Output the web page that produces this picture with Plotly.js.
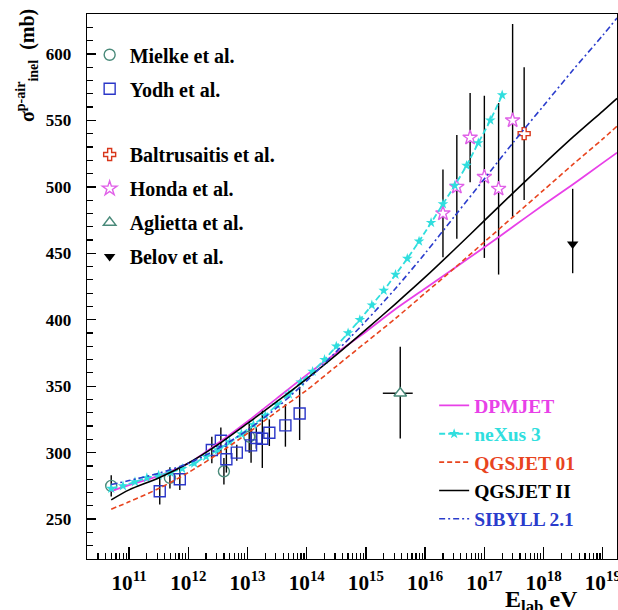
<!DOCTYPE html>
<html>
<head>
<meta charset="utf-8">
<script src="https://cdn.plot.ly/plotly-3.0.1.min.js"></script>
<style>html,body{margin:0;padding:0;background:#fff;}#chart{width:618px;height:610px;}</style>
</head>
<body>
<div id="chart"></div>
<script>
// ---------- data (energies in eV, cross sections in mb) ----------
const mielkeE   = [5.0e10, 4.9e11, 4.0e12, 1.07e13];
const mielkeS   = [275, 281, 286, 312];
const mielkeErr = [8, 8, 10, 12];

const yodhE   = [3.3e11, 7.2e11, 2.5e12, 3.55e12, 4.4e12, 6.6e12, 1.15e13, 1.41e13, 1.78e13, 2.34e13, 4.37e13, 7.6e13];
const yodhS   = [271, 280, 302, 309, 295, 300, 305.5, 311, 310.5, 315, 320.5, 329.5];
const yodhErr = [10, 8, 10, 10, 10, 6, 13, 8, 22, 10, 16, 20];

const baltE   = [4.7e17];
const baltS   = [540];
const baltErr = [50];

const hondaE   = [2.0e16, 3.43e16, 5.75e16, 1.0e17, 1.74e17, 3.0e17];
const hondaS   = [480, 500, 537, 507.5, 498.5, 550];
const hondaErr = [33, 39, 33.5, 61, 64.5, 72.5];

const agliettaE      = [3.8e15];
const agliettaS      = [344.7];
const agliettaErrUp  = [35];
const agliettaErrDn  = [34];
const agliettaEErrUp = [2.37e15];
const agliettaEErrDn = [1.87e15];

const belovE     = [3.1e18];
const belovS     = [457];
const belovErrUp = [41.5];
const belovErrDn = [22];

// model curves
const modelE = [5.0e10, 1e11, 3.16e11, 1e12, 3.16e12, 1e13, 3.16e13, 1e14, 3.16e14, 1e15,
                3.16e15, 1e16, 3.16e16, 1e17, 3.16e17, 1e18, 3.16e18, 1e19, 1.74e19];
const dpmjet   = [271, 275.5, 282.5, 292, 307, 323.5, 341, 358.5, 375, 391, 408, 423.5, 439, 454.5, 470.5, 486.5, 502, 518, 525.7];
const qgsjet01 = [257.5, 263, 273, 285, 299, 314.5, 331, 347, 365, 383, 401, 420, 439, 458.5, 478, 497.5, 517, 536, 545.6];
const qgsjet2  = [264.5, 272, 281, 292, 306, 322, 338.5, 355.5, 373.5, 392.5, 412, 432, 453, 474.5, 496, 517, 537.5, 557, 566.5];
const sibyll   = [276, 279, 284.5, 292, 303, 317, 334, 354, 376, 399, 423.5, 450, 478, 506, 534, 561, 588, 614, 627];

const nexusE = [5.0e10, 7.9e10, 1.26e11, 2.0e11, 3.16e11, 5.0e11, 7.9e11, 1.26e12, 2.0e12, 3.16e12,
                5.0e12, 7.9e12, 1.26e13, 2.0e13, 3.16e13, 5.0e13, 7.9e13, 1.26e14, 2.0e14, 3.16e14,
                5.0e14, 7.9e14, 1.26e15, 2.0e15, 3.16e15, 5.0e15, 7.9e15, 1.26e16, 2.0e16, 3.16e16,
                5.0e16, 7.9e16, 1.26e17, 2.0e17];
const nexus  = [273, 275, 278, 281, 283, 285, 288, 292, 297, 302,
                308, 314, 321, 328, 336, 344, 353, 361, 370, 380,
                390, 400, 411, 422, 434, 446, 459, 473, 487, 501,
                516, 533, 550, 569];

const yTickVals = [250, 300, 350, 400, 450, 500, 550, 600];

// ---------- styles ----------
const FONT = "Liberation Serif, Times New Roman, serif";
const C = {dpm:'#e840e8', nex:'#30dede', q01:'#e8441e', q2:'#000000', sib:'#2a3ccc',
           mielke:'#4a8a7a', yodh:'#2a36c8', balt:'#d8361a', honda:'#e060e8', agl:'#4a8a7a'};
function eb(arr, arrm){ return {type:'data', array:arr, arrayminus:arrm||arr, symmetric: !arrm,
                               color:'#000', thickness:1.4, width:0}; }

const traces = [
  // data
  {x:mielkeE, y:mielkeS, mode:'markers', name:'Mielke et al.', legend:'legend', legendgroup:'a1',
   marker:{symbol:'circle', size:11, color:'rgba(255,255,255,0)', line:{color:C.mielke, width:1.4}},
   error_y:eb(mielkeErr)},
  {x:yodhE, y:yodhS, mode:'markers', name:'Yodh et al.', legend:'legend', legendgroup:'a2',
   marker:{symbol:'square', size:11, color:'rgba(255,255,255,0)', line:{color:C.yodh, width:1.4}},
   error_y:eb(yodhErr)},
  {x:baltE, y:baltS, mode:'markers', name:'Baltrusaitis et al.', legend:'legend2', legendgroup:'b1',
   marker:{symbol:'cross', size:10, color:'#ffffff', line:{color:C.balt, width:1.4}},
   error_y:eb(baltErr)},
  {x:hondaE, y:hondaS, mode:'markers', name:'Honda et al.', legend:'legend2', legendgroup:'b2',
   marker:{symbol:'star', size:11, color:'#ffffff', line:{color:C.honda, width:1.4}},
   error_y:eb(hondaErr)},
  {x:agliettaE, y:agliettaS, mode:'markers', name:'Aglietta et al.', legend:'legend2', legendgroup:'b3',
   marker:{symbol:'triangle-up', size:11, color:'#ffffff', line:{color:C.agl, width:1.4}},
   error_y:eb(agliettaErrUp, agliettaErrDn), error_x:eb(agliettaEErrUp, agliettaEErrDn)},
  {x:belovE, y:belovS, mode:'markers', name:'Belov et al.', legend:'legend2', legendgroup:'b4',
   marker:{symbol:'triangle-down', size:10, color:'#000000'},
   error_y:eb(belovErrUp, belovErrDn)},
  // models
  {x:modelE, y:dpmjet, mode:'lines', name:'<span style="color:'+C.dpm+'">DPMJET</span>', legend:'legend3',
   line:{color:C.dpm, width:1.8, shape:'spline', smoothing:0.8}},
  {x:nexusE, y:nexus, mode:'lines+markers', name:'<span style="color:'+C.nex+'">neXus 3</span>', legend:'legend3',
   line:{color:C.nex, width:1.8, dash:'6px,3px', shape:'spline', smoothing:0.8},
   marker:{symbol:'star', size:8, color:C.nex, line:{width:0}}},
  {x:modelE, y:qgsjet01, mode:'lines', name:'<span style="color:'+C.q01+'">QGSJET 01</span>', legend:'legend3',
   line:{color:C.q01, width:1.6, dash:'5px,3px', shape:'spline', smoothing:0.8}},
  {x:modelE, y:qgsjet2, mode:'lines', name:'<span style="color:#000">QGSJET II</span>', legend:'legend3',
   line:{color:C.q2, width:1.6, shape:'spline', smoothing:0.8}},
  {x:modelE, y:sibyll, mode:'lines', name:'<span style="color:'+C.sib+'">SIBYLL 2.1</span>', legend:'legend3',
   line:{color:C.sib, width:1.6, dash:'6px,3px,2px,3px', shape:'spline', smoothing:0.8}}
];

const legBase = {bgcolor:'rgba(0,0,0,0)', borderwidth:0, font:{family:FONT, size:20, color:'#000', weight:'bold'},
                 xanchor:'left', yanchor:'top', tracegroupgap:5, itemclick:false, itemdoubleclick:false};

const layout = {
  width:618, height:610,
  margin:{l:87, r:1, t:14, b:51, pad:0},
  paper_bgcolor:'#fff', plot_bgcolor:'#fff',
  font:{family:FONT, color:'#000'},
  showlegend:true,
  legend:  Object.assign({}, legBase, {x:0.005, y:0.961}),
  legend2: Object.assign({}, legBase, {x:0.005, y:0.778}),
  legend3: Object.assign({}, legBase, {x:0.655, y:0.317, tracegroupgap:0, font:{family:FONT, size:19.5, color:'#000', weight:'bold'}}),
  xaxis:{
    type:'log', range:[10.29, 19.24], dtick:1, exponentformat:'power', showexponent:'all',
    ticks:'inside', ticklen:12, tickwidth:1.4, tickcolor:'#000',
    minor:{ticks:'inside', ticklen:6, tickwidth:1.2, tickcolor:'#000', dtick:'D1', showgrid:false},
    showgrid:false, zeroline:false, showline:true, linecolor:'#000', linewidth:1.4, mirror:true,
    tickfont:{family:FONT, size:17, color:'#000', weight:'bold'}, ticklabelstandoff:5,
    ticklabeloverflow:'allow'
  },
  yaxis:{
    range:[220, 630], tickvals:yTickVals, ticks:'inside', ticklen:9, tickwidth:1.4, tickcolor:'#000',
    minor:{ticks:'inside', ticklen:6, tickwidth:1.2, tickcolor:'#000', dtick:10, showgrid:false},
    showgrid:false, zeroline:false, showline:true, linecolor:'#000', linewidth:1.4, mirror:true,
    tickfont:{family:FONT, size:17, color:'#000', weight:'bold'}, ticklabelstandoff:11
  },
  annotations:[
    {xref:'paper', yref:'paper', x:-0.113, y:1.012, xanchor:'center', yanchor:'top', textangle:-90,
     showarrow:false, text:'σ<sup>p-air</sup><sub>inel</sub>  (mb)',
     font:{family:FONT, size:20, color:'#000', weight:'bold'}},
    {xref:'paper', yref:'paper', x:0.93, y:-0.046, xanchor:'right', yanchor:'top',
     showarrow:false, text:'E<sub>lab</sub> eV',
     font:{family:FONT, size:24, color:'#000', weight:'bold'}}
  ]
};

Plotly.newPlot('chart', traces, layout, {displayModeBar:false, staticPlot:true});
</script>
</body>
</html>
